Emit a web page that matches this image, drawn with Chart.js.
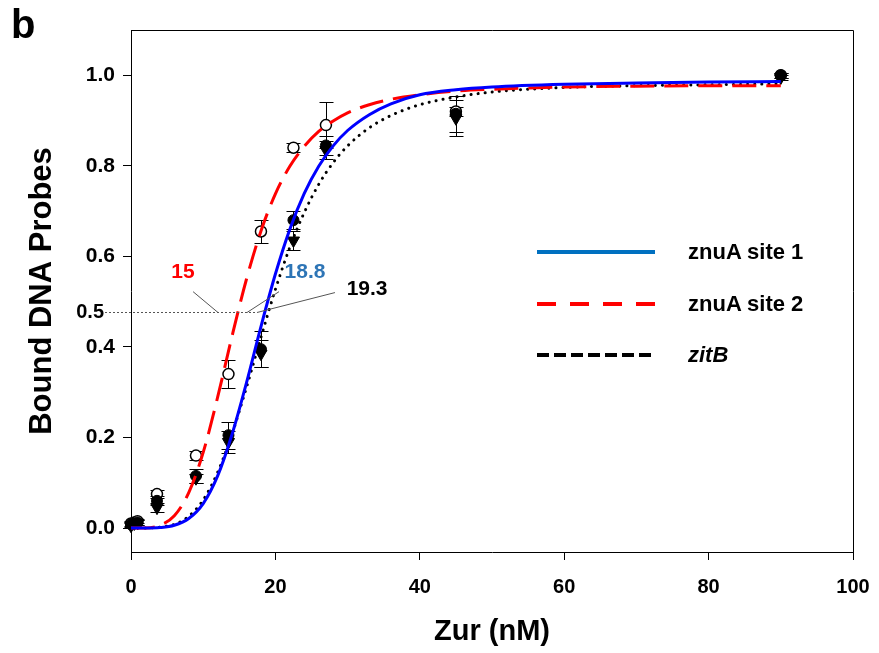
<!DOCTYPE html>
<html>
<head>
<meta charset="utf-8">
<script src="https://cdn.jsdelivr.net/npm/chart.js@4"></script>
<style>
  html,body{margin:0;padding:0;background:#fff;}
  #wrap{position:relative;width:879px;height:653px;font-family:"Liberation Sans",Arial,sans-serif;}
  #c{position:absolute;left:0;top:0;}
  .panel{position:absolute;left:11px;top:2px;font-weight:bold;font-size:40px;color:#000;}
  .leg{position:absolute;left:537px;height:30px;display:flex;align-items:center;}
  .leg svg{display:block;}
  .leg span{position:absolute;left:151px;white-space:nowrap;font-weight:bold;font-size:22px;color:#000;}
</style>
</head>
<body>
<div id="wrap">
  <canvas id="c" width="879" height="653"></canvas>
  <div class="panel">b</div>
  <div class="leg" style="top:237px"><svg width="118" height="8"><line x1="0" y1="4" x2="118" y2="4" stroke="#0070c0" stroke-width="4"/></svg><span>znuA site 1</span></div>
  <div class="leg" style="top:289px"><svg width="118" height="8"><line x1="0" y1="4" x2="118" y2="4" stroke="#ff0000" stroke-width="4" stroke-dasharray="19 14"/></svg><span>znuA site 2</span></div>
  <div class="leg" style="top:340px"><svg width="118" height="8"><line x1="0" y1="4" x2="118" y2="4" stroke="#000" stroke-width="4" stroke-dasharray="12 5"/></svg><span><i>zitB</i></span></div>
</div>
<script>
// ---- data ----
const conc      = [0, 0.45, 0.9, 3.6, 9, 13.5, 18, 22.5, 27, 45, 90];
const site1Obs  = [0.008, 0.010, 0.012, 0.060, 0.115, 0.205, 0.395, 0.680, 0.845, 0.915, 1.000];
const site1Err  = [0.005, 0.005, 0.005, 0.010, 0.015, 0.030, 0.040, 0.020, 0.020, 0.040, 0.005];
const site2Obs  = [0.010, 0.012, 0.015, 0.075, 0.160, 0.340, 0.655, 0.840, 0.890, 0.920, 1.000];
const site2Err  = [0.005, 0.005, 0.005, 0.008, 0.010, 0.030, 0.025, 0.010, 0.050, 0.010, 0.005];
const zitBObs   = [0.005, 0.010, 0.012, 0.045, 0.110, 0.190, 0.385, 0.635, 0.835, 0.905, 0.995];
const zitBErr   = [0.005, 0.005, 0.005, 0.010, 0.010, 0.025, 0.030, 0.020, 0.020, 0.040, 0.005];

const curveX    = [0, 2, 4, 6, 8, 10, 12, 14, 16, 18, 20, 22, 24, 26, 28, 30, 33, 36, 40, 45, 50, 60, 70, 80, 90];
const site1Fit  = [0, 0.000, 0.001, 0.006, 0.021, 0.054, 0.115, 0.207, 0.321, 0.445, 0.561, 0.660, 0.739, 0.799, 0.844, 0.878, 0.913, 0.937, 0.957, 0.968, 0.974, 0.980, 0.983, 0.985, 0.986];
const site2Fit  = [0, 0.000, 0.006, 0.027, 0.078, 0.167, 0.289, 0.424, 0.550, 0.656, 0.738, 0.799, 0.843, 0.876, 0.899, 0.917, 0.935, 0.947, 0.957, 0.965, 0.969, 0.974, 0.976, 0.977, 0.977];
const zitBFit   = [0, 0.000, 0.002, 0.008, 0.026, 0.062, 0.123, 0.208, 0.311, 0.421, 0.527, 0.620, 0.697, 0.759, 0.807, 0.844, 0.884, 0.911, 0.935, 0.952, 0.963, 0.973, 0.977, 0.979, 0.981];

const yTickVals = [0, 0.2, 0.4, 0.6, 0.8, 1.0];
const xTickVals = [0, 20, 40, 60, 80, 100];

// half-saturation annotations (data coordinates)
const halfLevel = 0.478;
const halfLineFrom = -3.6, halfLineTo = 17.45;
const kdLabels  = ['15', '18.8', '19.3'];
const kdColors  = ['#ff0000', '#2e75b6', '#000000'];
const kdTextX   = [7.2, 24.1, 32.7];
const kdTextY   = [0.566, 0.566, 0.527];
const kdLeadX1  = [8.6, 20.5, 28.25];
const kdLeadY1  = [0.522, 0.522, 0.520];
const kdLeadX2  = [12.05, 16.07, 17.45];

const FONT = '"Liberation Sans", Arial, sans-serif';
const pts = (xs, ys) => xs.map((x, i) => ({x, y: ys[i]}));

const errPlugin = {
  id: 'errbars',
  beforeDatasetsDraw(chart) {
    const {ctx} = chart, xs = chart.scales.x, ys = chart.scales.y;
    ctx.save();
    ctx.strokeStyle = '#000'; ctx.lineWidth = 1;
    chart.data.datasets.forEach(ds => {
      if (!ds.errors) return;
      ds.data.forEach((p, j) => {
        const e = ds.errors[j];
        const px = Math.round(xs.getPixelForValue(p.x)) + 0.5;
        const y1 = Math.round(ys.getPixelForValue(p.y + e)) + 0.5;
        const y2 = Math.round(ys.getPixelForValue(p.y - e)) + 0.5;
        ctx.beginPath();
        ctx.moveTo(px, y1); ctx.lineTo(px, y2);
        ctx.moveTo(px - 7, y1); ctx.lineTo(px + 7, y1);
        ctx.moveTo(px - 7, y2); ctx.lineTo(px + 7, y2);
        ctx.stroke();
      });
    });
    ctx.restore();
  }
};

const annPlugin = {
  id: 'annot',
  afterDraw(chart) {
    const {ctx, chartArea: a} = chart, xs = chart.scales.x, ys = chart.scales.y;
    ctx.save();
    // frame top & right
    ctx.strokeStyle = '#000'; ctx.lineWidth = 1;
    ctx.beginPath();
    ctx.moveTo(a.left, Math.round(a.top) + 0.5); ctx.lineTo(Math.round(a.right) + 0.5, Math.round(a.top) + 0.5);
    ctx.lineTo(Math.round(a.right) + 0.5, a.bottom);
    ctx.stroke();
    // half line
    const hy = Math.round(ys.getPixelForValue(halfLevel)) + 0.5;
    ctx.strokeStyle = '#555'; ctx.setLineDash([2, 2]);
    ctx.beginPath();
    ctx.moveTo(xs.getPixelForValue(halfLineFrom), hy);
    ctx.lineTo(xs.getPixelForValue(halfLineTo), hy);
    ctx.stroke();
    ctx.setLineDash([]);
    ctx.fillStyle = '#000';
    ctx.font = 'bold 20px ' + FONT;
    ctx.textAlign = 'right'; ctx.textBaseline = 'middle';
    ctx.fillText('0.5', xs.getPixelForValue(halfLineFrom) - 1, hy);
    // leaders + labels
    ctx.strokeStyle = '#555'; ctx.lineWidth = 1;
    kdLabels.forEach((t, i) => {
      ctx.beginPath();
      ctx.moveTo(xs.getPixelForValue(kdLeadX1[i]), ys.getPixelForValue(kdLeadY1[i]));
      ctx.lineTo(xs.getPixelForValue(kdLeadX2[i]), hy);
      ctx.stroke();
      ctx.fillStyle = kdColors[i];
      ctx.font = 'bold 21px ' + FONT;
      ctx.textAlign = 'center'; ctx.textBaseline = 'middle';
      ctx.fillText(t, xs.getPixelForValue(kdTextX[i]), ys.getPixelForValue(kdTextY[i]));
    });
    ctx.restore();
  }
};

new Chart(document.getElementById('c'), {
  type: 'scatter',
  data: {
    datasets: [
      { label: 'znuA site 1 fit', data: pts(curveX, site1Fit), showLine: true, pointRadius: 0,
        borderColor: '#0000ff', borderWidth: 3, cubicInterpolationMode: 'monotone', clip: 4 },
      { label: 'znuA site 2 fit', data: pts(curveX, site2Fit), showLine: true, pointRadius: 0,
        borderColor: '#ff0000', borderWidth: 3, borderDash: [24, 10], cubicInterpolationMode: 'monotone', clip: 4 },
      { label: 'zitB fit', data: pts(curveX, zitBFit), showLine: true, pointRadius: 0,
        borderColor: '#000000', borderWidth: 3, borderDash: [0.1, 7], borderCapStyle: 'round', cubicInterpolationMode: 'monotone', clip: 4 },
      { label: 'zitB', data: pts(conc, zitBObs), errors: zitBErr, pointStyle: 'triangle', rotation: 180,
        pointRadius: 7, backgroundColor: '#000', borderColor: '#000', borderWidth: 1, clip: 10 },
      { label: 'znuA site 1', data: pts(conc, site1Obs), errors: site1Err, pointStyle: 'circle',
        pointRadius: 5.5, backgroundColor: '#000', borderColor: '#000', borderWidth: 1, clip: 10 },
      { label: 'znuA site 2', data: pts(conc, site2Obs), errors: site2Err, pointStyle: 'circle',
        pointRadius: 5.5, backgroundColor: '#fff', borderColor: '#000', borderWidth: 1.5, clip: 10 }
    ]
  },
  options: {
    responsive: false,
    animation: false,
    events: [],
    layout: { padding: { top: 30, right: 26, bottom: 0, left: 0 } },
    plugins: { legend: { display: false }, tooltip: { enabled: false } },
    scales: {
      x: {
        type: 'linear', min: 0, max: 100,
        afterFit: s => { s.height = 101; s.paddingLeft = 0; s.paddingRight = 0; },
        afterBuildTicks: s => { s.ticks = xTickVals.map(v => ({value: v})); },
        grid: { drawOnChartArea: false, drawTicks: true, tickLength: 8, color: '#000', lineWidth: 1 },
        border: { display: true, color: '#000', width: 1 },
        ticks: { color: '#000', font: { family: FONT, size: 20, weight: 'bold' }, padding: 15, maxRotation: 0 },
        title: { display: true, text: 'Zur (nM)', color: '#000', font: { family: FONT, size: 29, weight: 'bold' }, padding: { top: 0, bottom: 4 } }
      },
      y: {
        type: 'linear', min: -0.053, max: 1.1,
        afterFit: s => { s.width = 131; s.paddingTop = 0; s.paddingBottom = 0; },
        afterBuildTicks: s => { s.ticks = yTickVals.map(v => ({value: v})); },
        grid: { drawOnChartArea: false, drawTicks: true, tickLength: 8, color: '#000', lineWidth: 1 },
        border: { display: true, color: '#000', width: 1 },
        ticks: { color: '#000', font: { family: FONT, size: 21, weight: 'bold' }, padding: 8,
                 callback: v => Number(v).toFixed(1) },
        title: { display: true, text: 'Bound DNA Probes', color: '#000', font: { family: FONT, size: 31, weight: 'bold' }, padding: { top: 24, bottom: 0 } }
      }
    }
  },
  plugins: [errPlugin, annPlugin]
});
</script>
</body>
</html>
